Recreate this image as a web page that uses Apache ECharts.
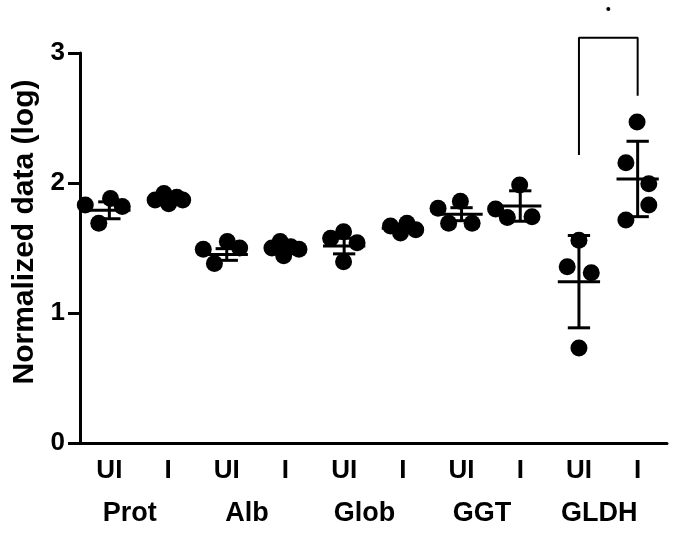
<!DOCTYPE html>
<html>
<head>
<meta charset="utf-8">
<script src="https://cdn.jsdelivr.net/npm/echarts@6/dist/echarts.min.js"></script>
<style>
  html, body { margin: 0; padding: 0; background: #fff; }
  #chart { width: 675px; height: 534px; }
</style>
</head>
<body>
<div id="chart"></div>
<script>
  // categories on the x axis, and the group names written under each pair
  const categories = ['UI', 'I', 'UI', 'I', 'UI', 'I', 'UI', 'I', 'UI', 'I'];
  const groups = ['Prot', 'Alb', 'Glob', 'GGT', 'GLDH'];

  // each point: [horizontal jitter from the category centre, value]
  const points = [
    [[-0.41, 1.83], [0.02, 1.88], [0.22, 1.82], [-0.18, 1.69]],
    [[-0.22, 1.87], [-0.07, 1.92], [0.01, 1.84], [0.15, 1.89], [0.25, 1.87]],
    [[-0.40, 1.49], [0.01, 1.55], [0.22, 1.50], [-0.21, 1.38]],
    [[-0.23, 1.50], [-0.09, 1.55], [0.09, 1.51], [0.23, 1.49], [-0.03, 1.44]],
    [[-0.01, 1.625], [-0.23, 1.575], [0.22, 1.54], [-0.01, 1.395]],
    [[-0.21, 1.67], [0.07, 1.69], [0.22, 1.64], [-0.04, 1.615]],
    [[-0.40, 1.805], [-0.02, 1.86], [-0.22, 1.69], [0.18, 1.69]],
    [[-0.01, 1.985], [-0.42, 1.80], [-0.22, 1.735], [0.20, 1.74]],
    [[0.00, 1.56], [-0.20, 1.355], [0.21, 1.31], [0.00, 0.73]],
    [[-0.01, 2.47], [-0.20, 2.155], [0.19, 1.995], [0.19, 1.83], [-0.20, 1.715]]
  ];
  // mean and SD bars
  const means = [1.79, 1.876, 1.45, 1.497, 1.515, 1.652, 1.76, 1.823, 1.241, 2.031];
  const sds = [0.065, 0.02, 0.045, 0.04, 0.06, 0.03, 0.05, 0.117, 0.355, 0.29];

  // significance bracket between GLDH UI and I
  const bracket = [[8, 2.215], [8, 3.118], [9, 3.118], [9, 2.672]];
  const sigMark = [[8.5, 3.338]];

  const font = '"Liberation Sans", Arial, sans-serif';

  const scatterData = points.flatMap((pts, i) => pts.map(p => [i + p[0], p[1]]));

  const chart = echarts.init(document.getElementById('chart'));
  chart.setOption({
    animation: false,
    grid: { left: 80, right: 8, top: 53, bottom: 91, outerBoundsMode: 'none' },
    xAxis: [
      {
        type: 'category',
        position: 'bottom',
        data: categories,
        boundaryGap: true,
        axisLine: { onZero: false, lineStyle: { color: '#000', width: 3 } },
        axisTick: { alignWithLabel: true, length: 12, lineStyle: { color: '#000', width: 3 } },
        axisLabel: { margin: 15, color: '#000', fontSize: 26, fontWeight: 'bold', fontFamily: font },
        splitLine: { show: false }
      },
      { type: 'value', min: -0.5, max: 9.5, show: false },
      {
        type: 'category',
        position: 'bottom',
        data: groups,
        axisLine: { show: false, onZero: false },
        axisTick: { show: false },
        axisLabel: { margin: 57, padding: [0, 18, 0, 0], color: '#000', fontSize: 27, fontWeight: 'bold', fontFamily: font },
        splitLine: { show: false }
      }
    ],
    yAxis: {
      type: 'value',
      min: 0,
      max: 3,
      interval: 1,
      name: 'Normalized data (log)',
      nameLocation: 'middle',
      nameRotate: 90,
      nameGap: 32,
      nameTextStyle: { color: '#000', fontSize: 30, fontWeight: 'bold', fontFamily: font, padding: [0, 0, 0, 32] },
      axisLine: { show: true, onZero: false, lineStyle: { color: '#000', width: 3 } },
      axisTick: { show: true, length: 12, lineStyle: { color: '#000', width: 3 } },
      axisLabel: { margin: 15, color: '#000', fontSize: 26, fontWeight: 'bold', fontFamily: font },
      splitLine: { show: false }
    },
    series: [
      {
        type: 'scatter',
        xAxisIndex: 1,
        symbolSize: 17,
        itemStyle: { color: '#000', opacity: 1 },
        data: scatterData
      },
      {
        type: 'custom',
        xAxisIndex: 1,
        encode: { x: 0, y: 1 },
        data: means.map((m, i) => [i, m, sds[i]]),
        renderItem: function (params, api) {
          const k = api.value(0), m = api.value(1), s = api.value(2);
          const c = api.coord([k, m]);
          const t = api.coord([k, m + s]);
          const b = api.coord([k, m - s]);
          const u = api.size([1, 0])[0];
          const hw = u * 0.36, cw = u * 0.19;
          const st = { stroke: '#000', lineWidth: 3 };
          return {
            type: 'group',
            children: [
              { type: 'line', shape: { x1: c[0], y1: t[1], x2: c[0], y2: b[1] }, style: st },
              { type: 'line', shape: { x1: c[0] - hw, y1: c[1], x2: c[0] + hw, y2: c[1] }, style: st },
              { type: 'line', shape: { x1: c[0] - cw, y1: t[1], x2: c[0] + cw, y2: t[1] }, style: st },
              { type: 'line', shape: { x1: c[0] - cw, y1: b[1], x2: c[0] + cw, y2: b[1] }, style: st }
            ]
          };
        }
      },
      {
        type: 'line',
        xAxisIndex: 1,
        clip: false,
        symbol: 'none',
        lineStyle: { color: '#000', width: 2 },
        data: bracket
      },
      {
        type: 'scatter',
        xAxisIndex: 1,
        clip: false,
        symbolSize: 4,
        itemStyle: { color: '#000', opacity: 1 },
        data: sigMark
      }
    ]
  });
</script>
</body>
</html>
